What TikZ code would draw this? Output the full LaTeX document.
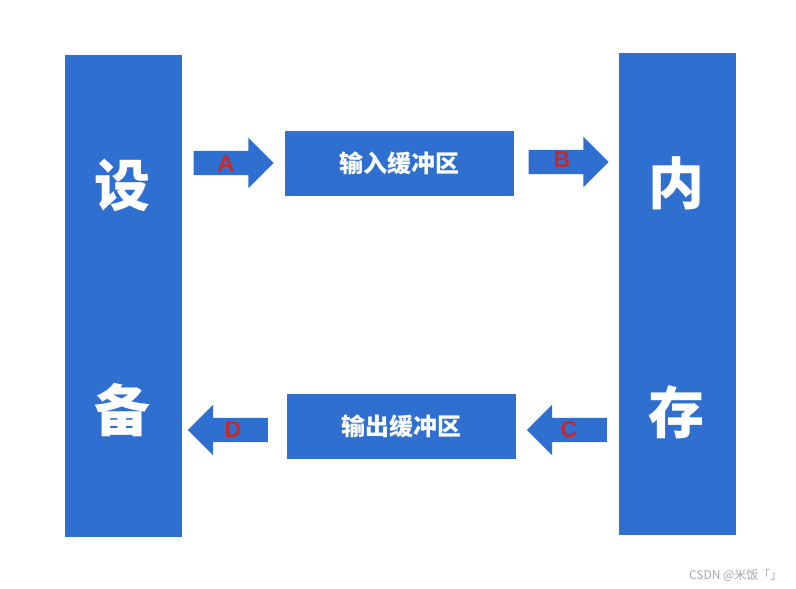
\documentclass[tikz,border=0pt]{standalone}
\usepackage{fontspec}
\newfontfamily\cjk{Noto Sans CJK SC}
\setsansfont{Liberation Sans}
\usetikzlibrary{shapes.arrows, positioning}
\definecolor{barblue}{HTML}{2E6FD0}
\definecolor{letterred}{HTML}{C8282A}
\begin{document}
\begin{tikzpicture}[
        x=1pt, y=-1pt,
        bar/.style={rectangle, fill=barblue, minimum width=117pt, minimum height=482pt, inner sep=0pt},
        barchar/.style={text=white, font=\cjk\bfseries\fontsize{56}{56}\selectfont},
        buffer/.style={rectangle, fill=barblue, minimum width=229pt, minimum height=65pt, inner sep=0pt, text=white, font=\cjk\bfseries\fontsize{24}{24}\selectfont},
        flow/.style={single arrow, fill=barblue, minimum height=80pt, minimum width=50pt, single arrow head extend=13pt, inner sep=0pt, text height=12pt, text depth=12pt, text width=0pt},
        letter/.style={text=letterred, font=\sffamily\bfseries\fontsize{23}{23}\selectfont}
    ]
        \useasboundingbox (0,0) rectangle (796,589);
        % Side bars
        \node (device) [bar] at (123.5,296) {};
        \node (memory) [bar] at (677.5,294) {};
        \node [barchar] at (122,185) {设};
        \node [barchar] at (122,410) {备};
        \node [barchar] at (676,183) {内};
        \node [barchar] at (676,412) {存};

        % Buffers
        \node (inbuf) [buffer] at (399.5,163.5) {输入缓冲区};
        \node (outbuf) [buffer] at (401.5,426.5) {输出缓冲区};

        % Arrows
        \node (arrA) [flow] at (227.5,163) {};
        \node (arrB) [flow] at (562.5,162) {};
        \node (arrC) [flow, shape border rotate=180] at (573,430) {};
        \node (arrD) [flow, shape border rotate=180] at (234,430) {};
        \node [letter] at (226,164) {A};
        \node [letter] at (562,160) {B};
        \node [letter] at (569,430) {C};
        \node [letter] at (233,430) {D};

        % Watermark
        \node [anchor=east, text=gray!70, font=\cjk\fontsize{12}{12}\selectfont] at (786,575) {CSDN @米饭「」};
    \end{tikzpicture}
\end{document}
